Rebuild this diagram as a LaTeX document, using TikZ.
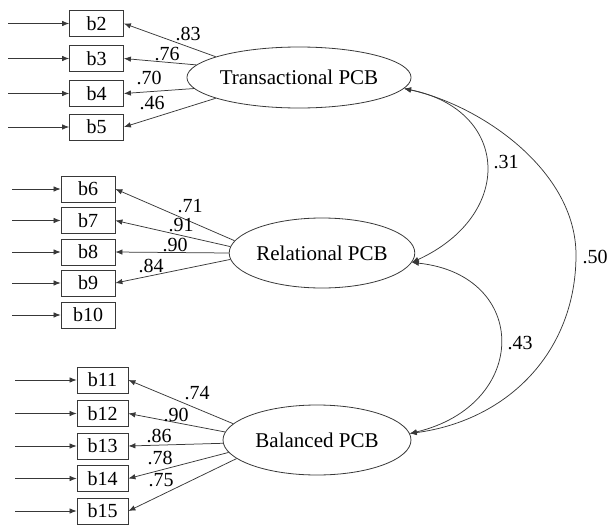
\documentclass[tikz,border=0pt]{standalone}
\usepackage{fontspec}
\setmainfont{Liberation Serif}
\usetikzlibrary{arrows.meta,shapes.geometric}
\definecolor{ink}{gray}{0.22}
\tikzset{
  indicator/.style={draw=ink, line width=0.8pt, minimum height=26pt, inner sep=0pt,
    font=\fontsize{20}{20}\selectfont},
  factor/.style={draw=ink, line width=0.8pt, ellipse, inner sep=0pt,
    font=\fontsize{21}{21}\selectfont},
  tip/.style={Latex[length=7pt,width=5.5pt]},
  link/.style={draw=ink, line width=0.75pt, -{Latex[length=7pt,width=5.5pt]}},
  cov/.style={draw=ink, line width=0.75pt, {Latex[length=7pt,width=5.5pt]}-{Latex[length=7pt,width=5.5pt]}},
  coef/.style={font=\fontsize{20}{20}\selectfont, inner sep=0pt}
}
\begin{document}
\begin{tikzpicture}[x=1pt,y=-1pt]
\useasboundingbox (0,0) rectangle (608,525);

% latent factors
\node[factor, minimum width=204pt, minimum height=61pt] (T) at (299,77.5) {Transactional PCB};
\node[factor, minimum width=182pt, minimum height=70pt] (R) at (322,253) {Relational PCB};
\node[factor, minimum width=188pt, minimum height=70pt] (B) at (317,440) {Balanced PCB};

% indicators of the transactional factor
\foreach \n/\y in {2/23.5,3/58.5,4/93.5,5/127}{
  \node[indicator, minimum width=54pt] (b\n) at (96.5,\y) {b\n};
  \coordinate (s\n) at (8,\y);
  \draw[link] (s\n) -- (b\n);
}
% indicators of the relational factor
\foreach \n/\y in {6/189,7/220.5,8/252,9/283,10/315}{
  \node[indicator, minimum width=54pt] (b\n) at (88,\y) {b\n};
  \coordinate (s\n) at (12,\y);
  \draw[link] (s\n) -- (b\n);
}
% indicators of the balanced factor
\foreach \n/\y in {11/380,12/413.5,13/446,14/478.5,15/511}{
  \node[indicator, minimum width=51pt] (b\n) at (102.5,\y) {b\n};
  \coordinate (s\n) at (15,\y);
  \draw[link] (s\n) -- (b\n);
}

% factor loadings
\draw[link] (T.166) -- (b2.east);
\draw[link] (T.173) -- (b3.east);
\draw[link] (T.186) -- (b4.east);
\draw[link] (T.194) -- (b5.east);
\node[coef] at (188,34) {.83};
\node[coef] at (167,54) {.76};
\node[coef] at (149,78) {.70};
\node[coef] at (152,103) {.46};

\draw[link] (R.172) -- (b6.east);
\draw[link] (R.176) -- (b7.east);
\draw[link] (R.180) -- (b8.east);
\draw[link] (R.184) -- (b9.east);
\node[coef] at (190,206) {.71};
\node[coef] at (181,225.5) {.91};
\node[coef] at (175,244.5) {.90};
\node[coef] at (151,266) {.84};

\draw[link] (B.169) -- (b11.east);
\draw[link] (B.175) -- (b12.east);
\draw[link] (B.182) -- (b13.east);
\draw[link] (B.188) -- (b14.east);
\draw[link] (B.193) -- (b15.east);
\node[coef] at (197,393) {.74};
\node[coef] at (176,415) {.90};
\node[coef] at (159,436) {.86};
\node[coef] at (160,458) {.78};
\node[coef] at (161,480) {.75};

% factor covariances
\draw[cov] (T.-6) .. controls (510,110) and (515,215) .. (R.-6);
\draw[cov] (R.-6) .. controls (530,275) and (530,405) .. (B.4);
\draw[cov] (T.-6) .. controls (480,105) and (576,170) .. (576,255)
                  .. controls (576,350) and (510,420) .. (B.4);
\node[coef] at (506,162) {.31};
\node[coef] at (520,343) {.43};
\node[coef] at (595,257) {.50};
\end{tikzpicture}
\end{document}
